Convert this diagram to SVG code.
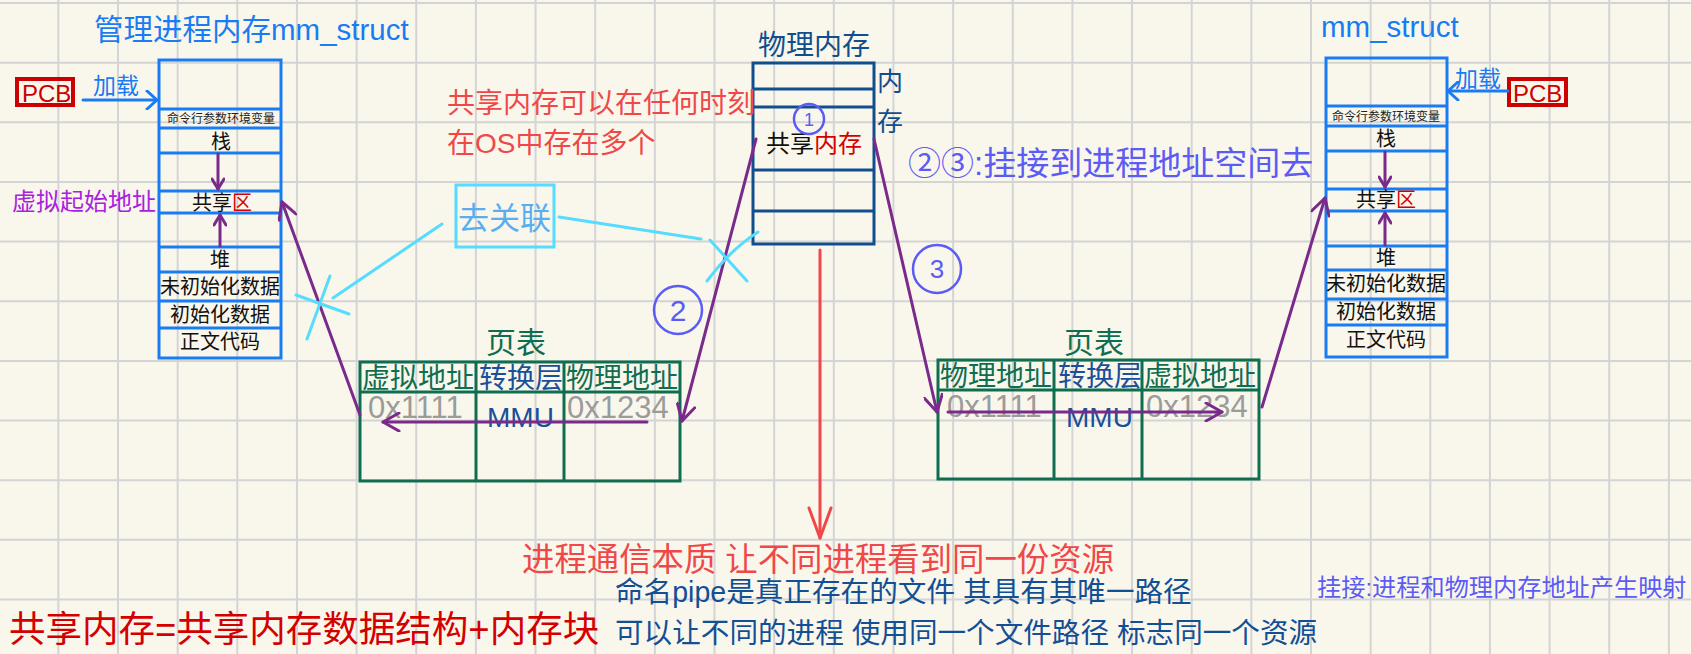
<svg xmlns="http://www.w3.org/2000/svg" width="1691" height="654" viewBox="0 0 1691 654">
<defs>
<style>
text{font-family:"Liberation Sans","Noto Sans CJK SC",sans-serif}
.grid{stroke:#d4d4d4;stroke-width:2;fill:none}
.mm{fill:none;stroke:#1a7cf2;stroke-width:3}
.phys{fill:none;stroke:#124e8d;stroke-width:3}
.pt{fill:none;stroke:#0f6e50;stroke-width:3}
.pl{fill:none;stroke:#7a2a8a;stroke-width:3;stroke-linecap:round}
.bl{fill:none;stroke:#1a7cf2;stroke-width:3;stroke-linecap:round}
.rd{fill:none;stroke:#f04848;stroke-width:3;stroke-linecap:round}
.cy{fill:none;stroke:#55dcff;stroke-width:3;stroke-linecap:round}
.vc{fill:none;stroke:#5c5cf5;stroke-width:2.5}
.pcb{fill:none;stroke:#cc0000;stroke-width:4}
.row{font-size:20px;fill:#111;text-anchor:middle}
.tiny{font-size:12px;fill:#222;text-anchor:middle}
.red{fill:#d40000}
.grn{fill:#0f6e50;font-size:28px}
.mmu{fill:#1b4f99;font-size:28px}
.hex{fill:#9b9b9b;font-size:31px}
</style>
<marker id="ap" viewBox="0 0 20 20" refX="18" refY="10" markerWidth="20" markerHeight="20" markerUnits="userSpaceOnUse" orient="auto"><path d="M2,1 L18,10 L2,19" fill="none" stroke="#7a2a8a" stroke-width="3" stroke-linecap="round" stroke-linejoin="round"/></marker>
<marker id="aps" viewBox="0 0 14 14" refX="12" refY="7" markerWidth="14" markerHeight="14" markerUnits="userSpaceOnUse" orient="auto"><path d="M2,1 L12,7 L2,13" fill="none" stroke="#7a2a8a" stroke-width="3" stroke-linecap="round" stroke-linejoin="round"/></marker>
<marker id="ab" viewBox="0 0 14 20" refX="12" refY="10" markerWidth="14" markerHeight="20" markerUnits="userSpaceOnUse" orient="auto"><path d="M2,1 L12,10 L2,19" fill="none" stroke="#1a7cf2" stroke-width="3" stroke-linecap="round" stroke-linejoin="round"/></marker>
<marker id="ar" viewBox="0 0 34 26" refX="32" refY="13" markerWidth="34" markerHeight="26" markerUnits="userSpaceOnUse" orient="auto"><path d="M2,2 L32,13 L2,24" fill="none" stroke="#f04848" stroke-width="3" stroke-linecap="round" stroke-linejoin="round"/></marker>
</defs>
<rect x="0" y="0" width="1691" height="654" fill="#f9f7ec"/>
<path class="grid" d="M58.35 0V654M118 0V654M177.65 0V654M237.3 0V654M296.95 0V654M356.6 0V654M416.25 0V654M475.9 0V654M535.55 0V654M595.2 0V654M654.85 0V654M714.5 0V654M774.15 0V654M833.8 0V654M893.45 0V654M953.1 0V654M1012.75 0V654M1072.4 0V654M1132.05 0V654M1191.7 0V654M1251.35 0V654M1311 0V654M1370.65 0V654M1430.3 0V654M1489.95 0V654M1549.6 0V654M1609.25 0V654M1668.9 0V654M0 3H1691M0 62.65H1691M0 122.3H1691M0 181.95H1691M0 241.6H1691M0 301.25H1691M0 360.9H1691M0 420.55H1691M0 480.2H1691M0 539.85H1691M0 599.5H1691"/>

<g id="left-mm">
<text x="94" y="40" font-size="29.5" fill="#1a7cf2">管理进程内存mm_struct</text>
<rect class="mm" x="159" y="60" width="122" height="298"/>
<path class="mm" d="M159 109H281M159 128H281M159 153H281M159 191H281M159 213H281M159 247H281M159 272H281M159 301H281M159 328H281"/>
<text class="tiny" x="221" y="123">命令行参数环境变量</text>
<text class="row" x="221" y="149">栈</text>
<text class="row" x="222" y="210">共享<tspan class="red">区</tspan></text>
<text class="row" x="220" y="267">堆</text>
<text class="row" x="220" y="294">未初始化数据</text>
<text class="row" x="220" y="322">初始化数据</text>
<text class="row" x="220" y="349">正文代码</text>
</g>

<g id="left-pcb">
<rect class="pcb" x="17" y="79" width="56" height="26"/>
<text x="22" y="102" font-size="24" fill="#cc0000">PCB</text>
<text x="93" y="94" font-size="23" fill="#1a7cf2">加载</text>
</g>

<g id="left-vaddr">
<text x="12" y="210" font-size="24" fill="#aa22dd">虚拟起始地址</text>
</g>

<g id="phys-mem">
<text x="814" y="55" font-size="28" fill="#124e8d" text-anchor="middle">物理内存</text>
<rect class="phys" x="753" y="63" width="121" height="181"/>
<path class="phys" d="M753 89H874M753 107H874M753 170H874M753 211H874"/>
<text x="766" y="152" font-size="24" fill="#111">共享<tspan class="red">内存</tspan></text>
<text x="877" y="91" font-size="26" fill="#124e8d">内</text>
<text x="877" y="131" font-size="26" fill="#124e8d">存</text>
</g>

<g id="note-shm">
<text x="447" y="113" font-size="28" fill="#f04848">共享内存可以在任何时刻</text>
<text x="447" y="153" font-size="28" fill="#f04848">在OS中存在多个</text>
</g>

<g id="unlink">
<rect x="456" y="185" width="98" height="62" fill="none" stroke="#55dcff" stroke-width="3"/>
<text x="458" y="229" font-size="31" fill="#5aaef0">去关联</text>
</g>

<g id="step1">
<circle class="vc" cx="809" cy="119" r="15"/>
<text x="809" y="126" font-size="18" fill="#5c5cf5" text-anchor="middle">1</text>
</g>
<g id="step2">
<circle class="vc" cx="678" cy="310" r="24"/>
<text x="678" y="321" font-size="30" fill="#5c5cf5" text-anchor="middle">2</text>
</g>
<g id="step3">
<circle class="vc" cx="937" cy="269" r="24"/>
<text x="937" y="278" font-size="26" fill="#5c5cf5" text-anchor="middle">3</text>
</g>

<g id="note-attach">
<text x="908" y="175" font-size="33" fill="#5c5cf5">②③:挂接到进程地址空间去</text>
</g>

<g id="left-pt">
<text x="516" y="353" font-size="30" fill="#0f6e50" text-anchor="middle">页表</text>
<rect class="pt" x="360" y="362" width="320" height="119"/>
<path class="pt" d="M476 362V481M564 362V481M360 392H680"/>
<text class="grn" x="362" y="388">虚拟地址</text>
<text class="mmu" x="479" y="388">转换层</text>
<text class="grn" x="566" y="388">物理地址</text>
<text class="hex" x="368" y="418">0x1111</text>
<text class="mmu" x="487" y="427">MMU</text>
<text class="hex" x="567" y="418">0x1234</text>
</g>

<g id="right-pt">
<text x="1094" y="353" font-size="30" fill="#0f6e50" text-anchor="middle">页表</text>
<rect class="pt" x="938" y="360" width="321" height="119"/>
<path class="pt" d="M1054 360V479M1142 360V479M938 390H1259"/>
<text class="grn" x="940" y="386">物理地址</text>
<text class="mmu" x="1058" y="386">转换层</text>
<text class="grn" x="1144" y="386">虚拟地址</text>
<text class="hex" x="947" y="417">0x1111</text>
<text class="mmu" x="1066" y="427">MMU</text>
<text class="hex" x="1146" y="417">0x1234</text>
</g>

<g id="right-mm">
<text x="1321" y="37" font-size="29.5" fill="#1a7cf2">mm_struct</text>
<rect class="mm" x="1326" y="58" width="121" height="299"/>
<path class="mm" d="M1326 106H1447M1326 126H1447M1326 151H1447M1326 189H1447M1326 211H1447M1326 246H1447M1326 270H1447M1326 299H1447M1326 325H1447"/>
<text class="tiny" x="1386" y="121">命令行参数环境变量</text>
<text class="row" x="1386" y="146">栈</text>
<text class="row" x="1386" y="207">共享<tspan class="red">区</tspan></text>
<text class="row" x="1386" y="265">堆</text>
<text class="row" x="1386" y="291">未初始化数据</text>
<text class="row" x="1386" y="319">初始化数据</text>
<text class="row" x="1386" y="347">正文代码</text>
</g>

<g id="right-pcb">
<rect class="pcb" x="1509" y="79" width="57" height="26"/>
<text x="1513" y="102" font-size="24" fill="#cc0000">PCB</text>
<text x="1455" y="87" font-size="23" fill="#1a7cf2">加载</text>
</g>

<g id="bottom-notes">
<text x="9" y="642" font-size="36.5" fill="#d40000">共享内存=共享内存数据结构+内存块</text>
<text x="522" y="571" font-size="32.4" fill="#f04848">进程通信本质 让不同进程看到同一份资源</text>
<text x="615" y="602" font-size="28.6" fill="#134f95">命名pipe是真正存在的文件 其具有其唯一路径</text>
<text x="615" y="643" font-size="28.6" fill="#134f95">可以让不同的进程 使用同一个文件路径 标志同一个资源</text>
<text x="1317" y="596" font-size="24.2" fill="#5c5cf5">挂接:进程和物理内存地址产生映射</text>
</g>

<g id="connectors">
<path class="bl" d="M83 100H157" marker-end="url(#ab)"/>
<path class="bl" d="M1508 91H1448" marker-end="url(#ab)"/>
<path class="pl" d="M218 154V189" marker-end="url(#aps)"/>
<path class="pl" d="M220 246V215" marker-end="url(#aps)"/>
<path class="pl" d="M1385 152V187" marker-end="url(#aps)"/>
<path class="pl" d="M1385 245V213" marker-end="url(#aps)"/>
<path class="pl" d="M360 415L282 202" marker-end="url(#ap)"/>
<path class="pl" d="M647 422H383" marker-end="url(#ap)"/>
<path class="pl" d="M756 139L682 421" marker-end="url(#ap)"/>
<path class="pl" d="M874 139L937 412" marker-end="url(#ap)"/>
<path class="pl" d="M948 412H1222" marker-end="url(#ap)"/>
<path class="pl" d="M1262 407L1325 198" marker-end="url(#ap)"/>
<path class="rd" d="M820 250V538" marker-end="url(#ar)"/>
<path class="cy" d="M442 224L333 298"/>
<path class="cy" d="M296 295L349 314M330 276L307 339"/>
<path class="cy" d="M559 217L701 239"/>
<path class="cy" d="M710 240L747 281M758 232Q730 250 707 281"/>
</g>
</svg>
